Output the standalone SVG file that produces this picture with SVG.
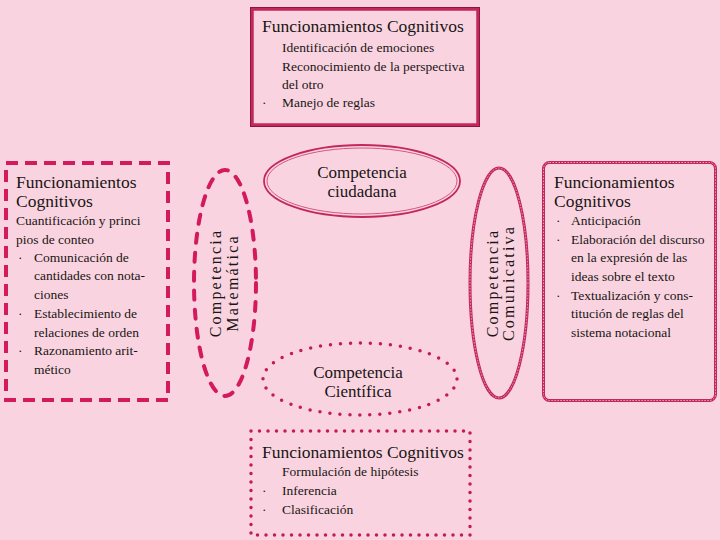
<svg xmlns="http://www.w3.org/2000/svg" width="720" height="540" viewBox="0 0 720 540" font-family="Liberation Serif, DejaVu Serif, serif">
<style>
text{font-family:'Liberation Serif','DejaVu Serif',serif;fill:#1a1414}
.t{font-size:17.5px}
.b{font-size:13.5px}
.c{font-size:17px;text-anchor:middle}
.v{font-size:16px;text-anchor:middle;letter-spacing:2.2px}
</style>
<rect width="720" height="540" fill="#F9D4E0"/>
<g id="connectors"></g>
<g id="top-box">
<rect x="252" y="9" width="226" height="116" fill="none" stroke="#C2285E" stroke-width="3.5"/>
<rect x="250.5" y="7.5" width="229" height="119" fill="none" stroke="#8E1540" stroke-width="1"/>
<text class="t" x="262" y="32">Funcionamientos Cognitivos</text>
<text class="b" x="282" y="52">Identificación de emociones</text>
<text class="b" x="282" y="71">Reconocimiento de la perspectiva</text>
<text class="b" x="282" y="89">del otro</text>
<text class="b" x="262" y="107">·</text>
<text class="b" x="282" y="107">Manejo de reglas</text>
</g>
<g id="left-box">
<rect x="6" y="163" width="162" height="237" fill="none" stroke="#D31A5C" stroke-width="4" stroke-dasharray="12 7"/>
<text class="t" x="16" y="188">Funcionamientos</text>
<text class="t" x="16" y="207">Cognitivos</text>
<text class="b" x="16" y="225">Cuantificación y princi</text>
<text class="b" x="16" y="244">pios de conteo</text>
<text class="b" x="18" y="262">·</text>
<text class="b" x="34" y="262">Comunicación de</text>
<text class="b" x="34" y="280">cantidades con nota-</text>
<text class="b" x="34" y="299">ciones</text>
<text class="b" x="18" y="318">·</text>
<text class="b" x="34" y="318">Establecimiento de</text>
<text class="b" x="34" y="337">relaciones de orden</text>
<text class="b" x="18" y="355">·</text>
<text class="b" x="34" y="355">Razonamiento arit-</text>
<text class="b" x="34" y="374">mético</text>
</g>
<g id="matematica">
<ellipse cx="225" cy="283" rx="31" ry="113" fill="none" stroke="#D31A5C" stroke-width="4" stroke-linecap="round" stroke-dasharray="9 10"/>
<text class="v" transform="translate(221,283) rotate(-90)">Competencia</text>
<text class="v" transform="translate(238,283) rotate(-90)">Matemática</text>
</g>
<g id="ciudadana">
<ellipse cx="362" cy="181" rx="98" ry="36" fill="none" stroke="#C2285E" stroke-width="1.8"/>
<ellipse cx="362" cy="181" rx="95" ry="33" fill="none" stroke="#D55583" stroke-width="1"/>
<text class="c" x="362" y="178">Competencia</text>
<text class="c" x="362" y="197">ciudadana</text>
</g>
<g id="comunicativa">
<ellipse cx="499" cy="283" rx="29" ry="115" fill="none" stroke="#C2285E" stroke-width="3"/>
<ellipse cx="499" cy="283" rx="29" ry="115" fill="none" stroke="#F0A0BE" stroke-width="1" stroke-dasharray="1.5 1.5"/>
<text class="v" transform="translate(498,283) rotate(-90)">Competencia</text>
<text class="v" transform="translate(514,283) rotate(-90)">Comunicativa</text>
</g>
<g id="right-box">
<rect x="543.5" y="162.5" width="172" height="238" rx="6" fill="none" stroke="#C2285E" stroke-width="3"/>
<rect x="543.5" y="162.5" width="172" height="238" rx="6" fill="none" stroke="#F0A0BE" stroke-width="1" stroke-dasharray="1.5 1.5"/>
<text class="t" x="554" y="188">Funcionamientos</text>
<text class="t" x="554" y="207">Cognitivos</text>
<text class="b" x="556" y="225">·</text>
<text class="b" x="571" y="225">Anticipación</text>
<text class="b" x="556" y="244">·</text>
<text class="b" x="571" y="244">Elaboración del discurso</text>
<text class="b" x="571" y="262">en la expresión de las</text>
<text class="b" x="571" y="281">ideas sobre el texto</text>
<text class="b" x="556" y="300">·</text>
<text class="b" x="571" y="300">Textualización y cons-</text>
<text class="b" x="571" y="318">titución de reglas del</text>
<text class="b" x="571" y="337">sistema notacional</text>
</g>
<g id="cientifica">
<ellipse cx="360" cy="379" rx="97" ry="36" fill="none" stroke="#C41A58" stroke-width="3.5" stroke-linecap="round" stroke-dasharray="0 10"/>
<text class="c" x="358" y="378">Competencia</text>
<text class="c" x="358" y="397">Científica</text>
</g>
<g id="bottom-box">
<rect x="251" y="431" width="219" height="104" fill="none" stroke="#C41A58" stroke-width="3.5" stroke-linecap="round" stroke-dasharray="0 8.5"/>
<text class="t" x="262" y="458">Funcionamientos Cognitivos</text>
<text class="b" x="282" y="476">Formulación de hipótesis</text>
<text class="b" x="262" y="495">·</text>
<text class="b" x="282" y="495">Inferencia</text>
<text class="b" x="262" y="514">·</text>
<text class="b" x="282" y="514">Clasificación</text>
</g>
</svg>
